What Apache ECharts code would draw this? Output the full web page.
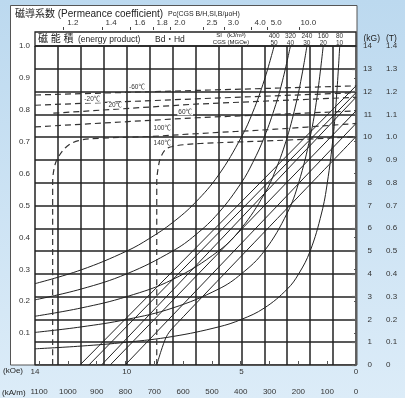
<!DOCTYPE html>
<html><head><meta charset="utf-8">
<script src="https://cdn.jsdelivr.net/npm/echarts@6/dist/echarts.min.js"></script>
<style>html,body{margin:0;padding:0;background:#fff;}#c{width:405px;height:398px;}</style>
</head><body><div id="c"></div>
<script>
// ---------- data ----------
const kOeLabels = [0, 5, 10, 14];
const kOeMax = 14;
const kAmPerKOe = 79.577;
const pcValues = [1.2, 1.4, 1.6, 1.8, 2.0, 2.5, 3.0, 4.0, 5.0, 10.0];
const energyCGS = [50, 40, 30, 20, 10];
const energySI = ['400', '320', '240', '160', '80'];
const temps = ['-60℃', '-20℃', '20℃', '60℃', '100℃', '140℃'];

// intrinsic (J-H) curves, dashed  [H kOe, B kG]
const jM60 = [[14, 11.85], [7, 12.05], [0, 12.25]];
const jM20 = [[14, 11.4], [7, 11.68], [0, 11.95]];
const j20 = [[13.2, 11.05], [7, 11.45], [0, 11.75]];
const j60 = [[14, 10.45], [7, 10.85], [0, 11.15]];
const j100 = [[13.23, 0], [13.23, 8.0], [13.15, 8.7], [12.98, 9.13], [12.6, 9.6], [12.1, 9.85], [11.2, 9.95], [9, 10.03], [7, 10.15], [3.5, 10.35], [0, 10.6]];
const j140 = [[8.69, 0], [8.69, 8.0], [8.62, 8.7], [8.5, 9.15], [8.25, 9.5], [7.8, 9.63], [6.8, 9.72], [3.5, 9.85], [0, 10.02]];

// normal (B-H) curves, solid
const bM60 = [[0, 12.25], [12.04, 0]];
const bM20 = [[0, 11.95], [11.65, 0]];
const b20 = [[0, 11.75], [11.1, 0]];
const b60 = [[0, 11.15], [10.72, 0]];
const b100 = [[0, 10.6], [10.07, 0]];
const b140 = [[0, 10.02], [8.0, 1.62], [8.27, 1.24], [8.5, 0.62], [8.69, 0]];

// energy product curves (Bd*Hd = const)
const e50 = [[14, 3.57], [12, 4.17], [10, 5.0], [9, 5.56], [8, 6.25], [7, 7.14], [6, 8.33], [5, 10.0], [4.5, 11.1], [4, 12.5], [3.57, 14]];
const e40 = [[14, 2.86], [12, 3.33], [10, 4.0], [8, 5.0], [7, 5.71], [6, 6.67], [5, 8.0], [4.5, 8.89], [4, 10.0], [3.5, 11.43], [3.2, 12.5], [2.86, 14]];
const e30 = [[14, 2.14], [12, 2.5], [10, 3.0], [8, 3.75], [6, 5.0], [5, 6.0], [4, 7.5], [3.5, 8.57], [3, 10.0], [2.6, 11.54], [2.35, 12.77], [2.14, 14]];
const e20 = [[14, 1.43], [12, 1.67], [10, 2.0], [8, 2.5], [6, 3.33], [5, 4.0], [4, 5.0], [3, 6.67], [2.5, 8.0], [2, 10.0], [1.7, 11.76], [1.43, 14]];
const e10 = [[14, 0.71], [12, 0.83], [10, 1.0], [8, 1.25], [6, 1.67], [5, 2.0], [4, 2.5], [3, 3.33], [2.5, 4.0], [2, 5.0], [1.5, 6.67], [1.25, 8.0], [1, 10.0], [0.85, 11.76], [0.71, 14]];

// ---------- layout / style ----------
const FONT = '"Liberation Sans", Arial, "Noto Sans CJK JP", sans-serif';
const pcLabelShift = 0.68;  // label placement offset along H (kOe)
const tempLabelAt = [[9.55, 12.2], [11.5, 11.65], [10.5, 11.4], [7.45, 11.1], [8.45, 10.38], [8.45, 9.74]];

const chart = echarts.init(document.getElementById('c'), null, {renderer: 'canvas'});

const jSets = [jM60, jM20, j20, j60, j100, j140];
const bSets = [bM60, bM20, b20, b60, b100, b140];
const eSets = [e50, e40, e30, e20, e10];

const series = [];
jSets.forEach((d, i) => {
  series.push({
    type: 'line', data: d, xAxisIndex: 0, yAxisIndex: 0, symbol: 'none', silent: true,
    smooth: d.length > 3 ? 0.35 : false,
    lineStyle: {color: '#333', width: 1.2, type: [6, 4]},
    z: 3,
    markPoint: {
      symbolSize: 0, silent: true, animation: false,
      data: [{coord: tempLabelAt[i], name: temps[i]}],
      label: {show: true, position: 'inside', formatter: '{b}', fontSize: 6.5, fontFamily: FONT,
        color: '#333', backgroundColor: '#fff', padding: [0, 1]}
    }
  });
});
bSets.forEach(d => series.push({
  type: 'line', data: d, xAxisIndex: 0, yAxisIndex: 0, symbol: 'none', silent: true,
  smooth: d.length > 2 ? 0.3 : false, lineStyle: {color: '#222', width: 1}, z: 2
}));
eSets.forEach(d => series.push({
  type: 'line', data: d, xAxisIndex: 0, yAxisIndex: 0, symbol: 'none', silent: true,
  smooth: 0.4, lineStyle: {color: '#222', width: 1}, z: 2
}));

const txt = (x, y, text, size, extra) => ({
  type: 'text', x: x, y: y, z: 20,
  style: Object.assign({text: text, fontSize: size, fontFamily: FONT, fill: '#222', verticalAlign: 'middle'}, extra || {})
});

const option = {
  animation: false,
  backgroundColor: new echarts.graphic.LinearGradient(0, 0, 0, 1, [
    {offset: 0, color: '#bcd9ef'}, {offset: 1, color: '#dcecf8'}
  ]),
  grid: {left: 35, top: 46, width: 321, height: 319, containLabel: false},
  xAxis: [
    { // kOe
      type: 'value', min: 0, max: kOeMax, interval: 1, inverse: true, position: 'bottom',
      axisLine: {show: false}, axisTick: {show: false},
      axisLabel: {customValues: kOeLabels, fontSize: 8, fontFamily: FONT, color: '#333', margin: 3},
      splitLine: {show: true, lineStyle: {color: '#222', width: 1.5}}
    },
    { // kA/m
      type: 'value', min: 0, max: kOeMax * kAmPerKOe, interval: 100, inverse: true, position: 'bottom', offset: 18,
      axisLine: {show: true, lineStyle: {color: '#555', width: 1}},
      axisTick: {show: true, inside: true, length: 4, lineStyle: {color: '#555'}},
      axisLabel: {fontSize: 8, fontFamily: FONT, color: '#333', margin: 5, formatter: v => String(Math.round(v))},
      splitLine: {show: false}
    },
    { // energy product labels
      type: 'value', min: 0, max: kOeMax, inverse: true, position: 'top', offset: 0,
      axisLine: {show: false}, axisTick: {show: false}, splitLine: {show: false},
      axisLabel: {
        customValues: energyCGS.map(e => e / 14), fontSize: 6.5, lineHeight: 7, fontFamily: FONT, color: '#333', margin: -1,
        formatter: v => { const i = energyCGS.indexOf(Math.round(v * 14)); return i < 0 ? '' : energySI[i] + '\n' + energyCGS[i]; }
      }
    },
    { // permeance coefficient
      type: 'value', min: 0, max: kOeMax, inverse: true, position: 'top', offset: 16,
      axisLine: {show: false}, splitLine: {show: false},
      axisTick: {show: true, length: 3, customValues: pcValues.map(p => 14 / p + pcLabelShift + 0.4), lineStyle: {color: '#444'}},
      axisLabel: {
        customValues: pcValues.map(p => 14 / p + pcLabelShift), fontSize: 8, fontFamily: FONT, color: '#333', margin: 3,
        formatter: v => { let best = pcValues[0], bd = 1e9; pcValues.forEach(p => { const d = Math.abs(14 / p + pcLabelShift - v); if (d < bd) { bd = d; best = p; } }); return best.toFixed(1); }
      }
    }
  ],
  yAxis: [
    { // kG
      type: 'value', min: 0, max: 14, interval: 1, position: 'right', offset: 23,
      axisLine: {show: true, lineStyle: {color: '#666', width: 1.5}},
      axisTick: {show: true, inside: true, length: 4, lineStyle: {color: '#666', width: 1.2}},
      axisLabel: {inside: true, margin: 7, fontSize: 8, fontFamily: FONT, color: '#333'},
      splitLine: {show: true, lineStyle: {color: '#222', width: 1.5}}
    },
    { // T
      type: 'value', min: 0, max: 1.4, interval: 0.1, position: 'right', offset: 23,
      axisLine: {show: false}, axisTick: {show: false}, splitLine: {show: false},
      axisLabel: {margin: 7, fontSize: 8, fontFamily: FONT, color: '#333',
        formatter: v => v === 0 ? '0' : v.toFixed(1)}
    },
    { // left scale 0 - 1.0
      type: 'value', min: 0, max: 1.0, interval: 0.1, position: 'left',
      axisLine: {show: false}, splitLine: {show: false},
      axisTick: {show: true, length: 2, lineStyle: {color: '#555'}},
      axisLabel: {margin: 5, fontSize: 8, fontFamily: FONT, color: '#333',
        formatter: v => v === 0 ? '' : v.toFixed(1)}
    }
  ],
  graphic: {elements: [
    {type: 'rect', z: -10, shape: {x: 10.5, y: 5.5, width: 346.5, height: 359.5}, style: {fill: '#fff', stroke: '#555', lineWidth: 1}},
    {type: 'rect', z: 10, shape: {x: 35, y: 32, width: 321, height: 14}, style: {fill: 'none', stroke: '#222', lineWidth: 1.3}},
    txt(15, 14, '磁導系数 (Permeance coefficient)', 10),
    txt(168, 14, 'Pc(CGS B/H,SI,B/μoH)', 7),
    txt(38, 39.5, '磁 能 積', 10),
    txt(78, 39.5, '(energy product)', 8.5),
    txt(155, 39.5, 'Bd・Hd', 8.5),
    txt(231, 35.5, 'SI   (kJ/m³)', 6, {textAlign: 'center'}),
    txt(231, 42.5, 'CGS (MGOe)', 6, {textAlign: 'center'}),
    txt(3, 371, '(kOe)', 8),
    txt(2, 393, '(kA/m)', 8),
    txt(380, 39, '(kG)', 8.5, {textAlign: 'right'}),
    txt(386, 39, '(T)', 8.5)
  ]},
  series: series
};
chart.setOption(option);
</script></body></html>
